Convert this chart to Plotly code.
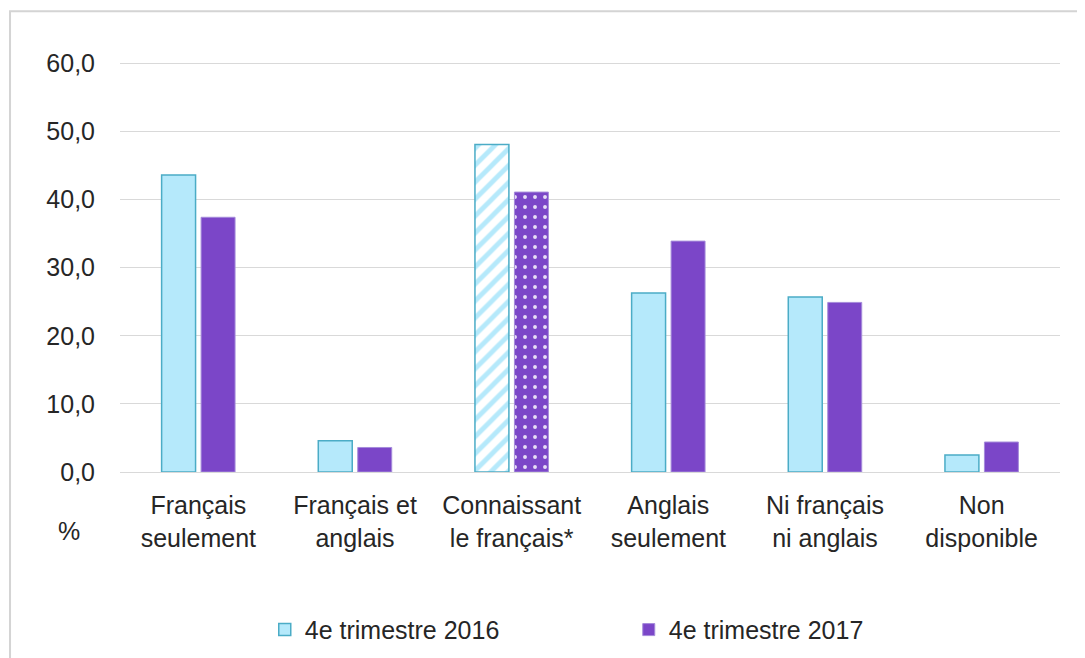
import plotly.graph_objects as go

# categories and values
categories = ["Français<br>seulement", "Français et<br>anglais", "Connaissant<br>le français*",
              "Anglais<br>seulement", "Ni français<br>ni anglais", "Non<br>disponible"]
t2016 = [43.6, 4.6, 48.1, 26.3, 25.7, 2.5]
t2017 = [37.4, 3.6, 41.1, 33.9, 24.9, 4.4]
y_ticks = [0, 10, 20, 30, 40, 50, 60]

font_family = "Liberation Sans, Arial, sans-serif"
txt = "#262626"
fs = 25

# hatched bars for the "Connaissant le français*" group
shape16 = ["", "", "/", "", "", ""]
shape17 = ["", "", ".", "", "", ""]

trace1 = go.Bar(
    x=categories, y=t2016, name="4e trimestre 2016",
    marker=dict(color="#B5E9FB",
                line=dict(color="#4BACC6", width=1.5),
                pattern=dict(shape=shape16, fgcolor="#B5E9FB", bgcolor="white",
                             size=12, solidity=0.4, fillmode="replace")),
)
trace2 = go.Bar(
    x=categories, y=t2017, name="4e trimestre 2017",
    marker=dict(color="#7B46C8",
                line=dict(color="#A58BDA", width=1),
                pattern=dict(shape=shape17, fgcolor="#E6DDF6", bgcolor="#7B46C8",
                             size=10, solidity=0.12, fillmode="replace")),
)

fig = go.Figure(data=[trace1, trace2])
fig.update_layout(
    width=1085, height=658,
    margin=dict(l=112, r=33, t=54, b=194),
    paper_bgcolor="white", plot_bgcolor="white",
    separators=", ",
    font=dict(family=font_family, size=fs, color=txt),
    barmode="group", bargap=0.496, bargroupgap=0.14,
    showlegend=True,
    legend=dict(orientation="h", x=0.154, xanchor="left", y=-0.385, yanchor="middle",
                entrywidth=319, itemwidth=30, traceorder="normal",
                font=dict(size=fs, color=txt)),
    xaxis=dict(showgrid=False, showline=False, ticks="", ticklabelstandoff=16,
               tickfont=dict(size=fs, color=txt)),
    yaxis=dict(range=[0, 60.2], tickvals=y_ticks, tickformat=".1f",
               showgrid=True, gridcolor="#D9D9D9", gridwidth=1,
               zeroline=True, zerolinecolor="#D9D9D9", zerolinewidth=1,
               showline=False, ticks="", ticklabelstandoff=24,
               tickfont=dict(size=fs, color=txt)),
    annotations=[dict(text="%", xref="paper", yref="paper", x=-0.068, y=-0.182,
                      showarrow=False, font=dict(size=fs, color=txt))],
    shapes=[dict(type="rect", xref="paper", yref="paper",
                 x0=-0.117, x1=1.0245, y0=-0.6, y1=1.124,
                 line=dict(color="#D4D4D4", width=2), layer="below")],
)

fig.write_html("out.html")
